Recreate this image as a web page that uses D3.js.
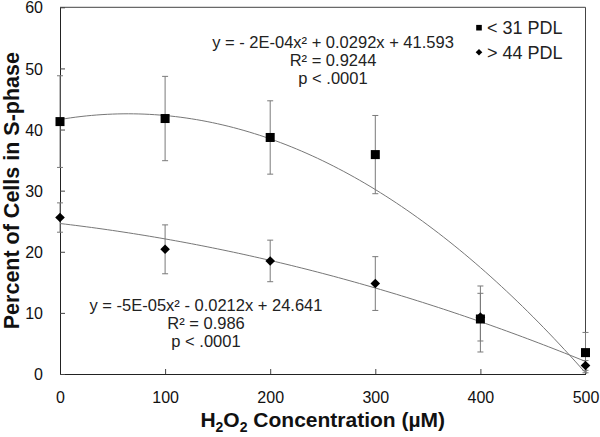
<!DOCTYPE html>
<html><head><meta charset="utf-8">
<script src="https://cdn.jsdelivr.net/npm/d3@7"></script>
<style>
body{margin:0;background:#fff}
svg{display:block}
text{font-family:"Liberation Sans",Arial,Helvetica,sans-serif;fill:#111}
</style>
</head><body>
<svg id="c" width="600" height="437"></svg>
<script>
// ---- data ----
const concentrations = [0, 100, 200, 300, 400, 500];
const youngMean = [41.3, 41.8, 38.7, 35.9, 9.0, 3.5];   // < 31 PDL
const youngErr  = [7.5, 6.9, 6.0, 6.4, 5.4, 3.3];
const oldMean   = [25.6, 20.4, 18.5, 14.8, 9.3, 1.4];   // > 44 PDL
const oldErr    = [2.4, 4.0, 3.4, 4.4, 3.9, 0.8];
const xTicks = [0, 100, 200, 300, 400, 500];
const yTicks = [0, 10, 20, 30, 40, 50, 60];
const legendLabels = ["< 31 PDL", "> 44 PDL"];
const youngEq = ["y = - 2E-04x² + 0.0292x + 41.593", "R² = 0.9244", "p < .0001"];
const oldEq   = ["y = -5E-05x² - 0.0212x + 24.641", "R² = 0.986", "p < .0001"];
const xTitle = "Concentration (µM)";
const yTitle = "Percent of Cells in S-phase";

// ---- quadratic least-squares fit from the data ----
function quadFit(xs, ys) {
  let S = [0,0,0,0,0], T = [0,0,0];
  xs.forEach((x, i) => {
    for (let k = 0; k < 5; k++) S[k] += Math.pow(x, k);
    for (let k = 0; k < 3; k++) T[k] += Math.pow(x, k) * ys[i];
  });
  const A = [[S[0],S[1],S[2],T[0]],[S[1],S[2],S[3],T[1]],[S[2],S[3],S[4],T[2]]];
  for (let i = 0; i < 3; i++) {
    for (let j = i + 1; j < 3; j++) {
      const f = A[j][i] / A[i][i];
      for (let k = i; k < 4; k++) A[j][k] -= f * A[i][k];
    }
  }
  const c = [0,0,0];
  for (let i = 2; i >= 0; i--) {
    let s = A[i][3];
    for (let k = i + 1; k < 3; k++) s -= A[i][k] * c[k];
    c[i] = s / A[i][i];
  }
  return x => c[0] + c[1] * x + c[2] * x * x;
}

const svg = d3.select("#c");
const x = d3.scaleLinear().domain([0, 500]).range([60, 585.5]);
const y = d3.scaleLinear().domain([0, 60]).range([374, 7.3]);

// frame (top/right)
svg.append("path")
  .attr("d", `M${x(0)},${y(60)}H${x(500)}V${y(0)}`)
  .attr("fill", "none").attr("stroke", "#444").attr("stroke-width", 1);

// axes
const gx = svg.append("g").attr("transform", `translate(0,${y(0)})`)
  .call(d3.axisBottom(x).tickValues(xTicks).tickSize(-5).tickSizeOuter(0).tickPadding(18).tickFormat(d3.format("d")));
const gy = svg.append("g").attr("transform", `translate(${x(0)},0)`)
  .call(d3.axisLeft(y).tickValues(yTicks).tickSize(-5).tickSizeOuter(0).tickPadding(17).tickFormat(d3.format("d")));
[gx, gy].forEach(g => {
  g.select(".domain").attr("stroke", "#222");
  g.selectAll(".tick line").attr("stroke", "#444");
  g.selectAll(".tick text").attr("font-size", 16).attr("font-family", null).style("fill", "#111");
});
gy.selectAll(".tick text").attr("dy", "0.35em");

// axis titles
const xt = svg.append("text").attr("x", (x(0) + x(500)) / 2).attr("y", 426.5)
  .attr("text-anchor", "middle").attr("font-size", 21).attr("font-weight", "bold");
xt.append("tspan").text("H");
xt.append("tspan").attr("font-size", 14).attr("dy", 5).text("2");
xt.append("tspan").attr("dy", -5).text("O");
xt.append("tspan").attr("font-size", 14).attr("dy", 5).text("2");
xt.append("tspan").attr("dy", -5).text(" " + xTitle);

svg.append("text")
  .attr("transform", `translate(19,${(y(0) + y(60)) / 2}) rotate(-90)`)
  .attr("text-anchor", "middle").attr("font-size", 21.5).attr("font-weight", "bold")
  .text(yTitle);

// series drawing
const series = [
  {mean: oldMean, err: oldErr, shape: "diamond"},
  {mean: youngMean, err: youngErr, shape: "square"}
];
const lineGen = d3.line().x(d => x(d[0])).y(d => y(d[1]));

series.forEach(s => {
  const g = svg.append("g").attr("stroke", "#7a7a7a").attr("stroke-width", 1);
  concentrations.forEach((c, i) => {
    const lo = Math.max(0, s.mean[i] - s.err[i]), hi = s.mean[i] + s.err[i];
    g.append("line").attr("x1", x(c)).attr("x2", x(c)).attr("y1", y(lo)).attr("y2", y(hi));
    g.append("line").attr("x1", x(c) - 3).attr("x2", x(c) + 3).attr("y1", y(hi)).attr("y2", y(hi));
    if (s.mean[i] - s.err[i] > 0)
      g.append("line").attr("x1", x(c) - 3).attr("x2", x(c) + 3).attr("y1", y(lo)).attr("y2", y(lo));
  });
});

series.forEach(s => {
  const f = quadFit(concentrations, s.mean);
  const pts = d3.range(0, 501, 5).map(v => [v, f(v)]);
  svg.append("path").attr("d", lineGen(pts))
    .attr("fill", "none").attr("stroke", "#777").attr("stroke-width", 1);
});

function marker(g, shape, cx, cy, r) {
  if (shape === "square") {
    g.append("rect").attr("x", cx - r).attr("y", cy - r).attr("width", 2 * r).attr("height", 2 * r).attr("fill", "#000");
  } else {
    g.append("path").attr("d", `M${cx},${cy - r}L${cx + r},${cy}L${cx},${cy + r}L${cx - r},${cy}Z`).attr("fill", "#000");
  }
}
series.forEach(s => {
  const g = svg.append("g");
  concentrations.forEach((c, i) => marker(g, s.shape, x(c), y(s.mean[i]), s.shape === "square" ? 4.5 : 4.8));
});

// equations
const eqs = [{lines: youngEq, cx: 333, cy: 42}, {lines: oldEq, cx: 206, cy: 305}];
eqs.forEach(e => {
  e.lines.forEach((t, i) => {
    svg.append("text").attr("x", e.cx).attr("y", e.cy + i * 18.3).attr("dy", "0.35em")
      .attr("text-anchor", "middle").attr("font-size", 16.5).style("fill", "#222").text(t);
  });
});

// legend
const legendShapes = ["square", "diamond"];
legendLabels.forEach((t, i) => {
  const ly = 27.7 + i * 24.5;
  const g = svg.append("g");
  marker(g, legendShapes[i], 479, ly, legendShapes[i] === "square" ? 2.8 : 3.3);
  svg.append("text").attr("x", 487).attr("y", ly).attr("dy", "0.35em")
    .attr("font-size", 18).style("fill", "#222").text(t);
});
</script>
</body></html>
